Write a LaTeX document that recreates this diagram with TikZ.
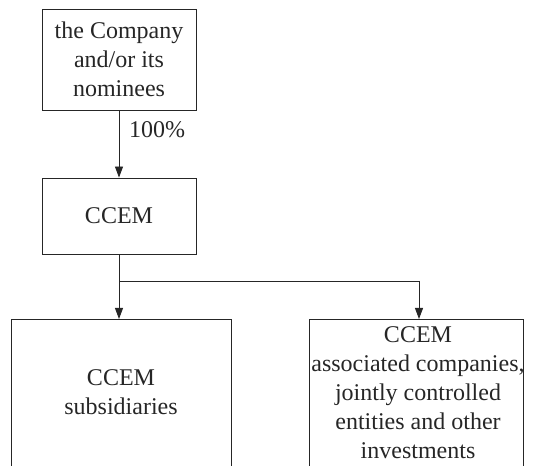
\documentclass[tikz,border=0pt]{standalone}
\usepackage{fontspec}
\setmainfont{Liberation Serif}
\usetikzlibrary{arrows.meta}
\begin{document}
\begin{tikzpicture}[x=1pt,y=1pt,
  every node/.style={font=\fontsize{24}{29}\selectfont, text=black!85},
  box/.style={draw=black!85, line width=0.9pt, align=center, inner sep=0pt},
  openbox/.style={inner sep=0pt, anchor=north west},
  edge/.style={draw=black!85, line width=0.9pt},
  arr/.style={edge, -{Triangle[length=11pt,width=8pt]}}]
\useasboundingbox (0,0) rectangle (533,466);
\node[box, minimum width=154pt, minimum height=101pt] (co) at (119,406.5) {the Company\\and/or its\\nominees};
\node[box, minimum width=154pt, minimum height=76pt] (ccem) at (119,250) {CCEM};
\node[openbox, minimum width=220pt, minimum height=150pt] (sub) at (11,147) {};
\node[openbox, minimum width=214pt, minimum height=150pt] (inv) at (309,147) {};
\draw[edge] (sub.south west) -- (sub.north west) -- (sub.north east) -- (sub.south east);
\draw[edge] (inv.south west) -- (inv.north west) -- (inv.north east) -- (inv.south east);
\node[align=center, inner sep=0pt] (subt) at (121,73.5) {CCEM\\subsidiaries};
\node[align=center, inner sep=0pt] (invt) at (418,73.5) {CCEM\\associated companies,\\jointly controlled\\entities and other\\investments};
\draw[arr] (co.south) -- (ccem.north);
\node[anchor=base west, inner sep=0pt] (pct) at (129,328) {100\%};
\coordinate (j1) at (119,185);
\coordinate (j2) at (419,185);
\draw[edge] (ccem.south) -- (j1) -- (j2);
\draw[arr] (j1) -- (j1 |- sub.north);
\draw[arr] (j2) -- (j2 |- inv.north);
\end{tikzpicture}
\end{document}
